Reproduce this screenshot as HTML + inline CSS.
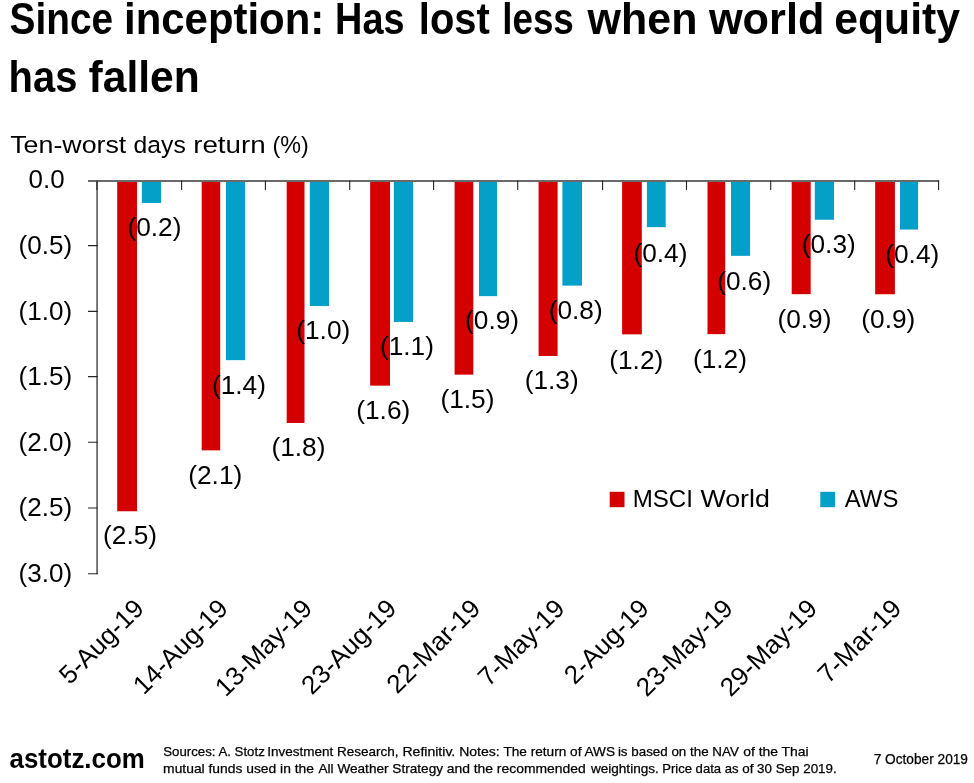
<!DOCTYPE html>
<html lang="en"><head><meta charset="utf-8"><title>Since inception: Has lost less when world equity has fallen</title>
<style>
html,body{margin:0;padding:0;background:#fff}
svg{display:block}
text{font-family:"Liberation Sans", sans-serif;fill:#000}
</style></head><body>
<svg width="974" height="783" viewBox="0 0 974 783">
<text x="9.55" y="34.30" font-size="43.60" font-weight="bold" textLength="103.50" lengthAdjust="spacingAndGlyphs">Since</text>
<text x="124.00" y="34.30" font-size="43.60" font-weight="bold" textLength="200.29" lengthAdjust="spacingAndGlyphs">inception:</text>
<text x="335.10" y="34.30" font-size="43.60" font-weight="bold" textLength="69.46" lengthAdjust="spacingAndGlyphs">Has</text>
<text x="418.85" y="34.30" font-size="43.60" font-weight="bold" textLength="70.92" lengthAdjust="spacingAndGlyphs">lost</text>
<text x="502.20" y="34.30" font-size="43.60" font-weight="bold" textLength="71.65" lengthAdjust="spacingAndGlyphs">less</text>
<text x="587.60" y="34.30" font-size="43.60" font-weight="bold" textLength="109.78" lengthAdjust="spacingAndGlyphs">when</text>
<text x="708.90" y="34.30" font-size="43.60" font-weight="bold" textLength="115.48" lengthAdjust="spacingAndGlyphs">world</text>
<text x="834.25" y="34.30" font-size="43.60" font-weight="bold" textLength="125.80" lengthAdjust="spacingAndGlyphs">equity</text>
<text x="8.55" y="91.50" font-size="43.60" font-weight="bold" textLength="68.82" lengthAdjust="spacingAndGlyphs">has</text>
<text x="88.55" y="91.50" font-size="43.60" font-weight="bold" textLength="111.23" lengthAdjust="spacingAndGlyphs">fallen</text>
<text x="10.20" y="152.70" font-size="24.30" textLength="116.14" lengthAdjust="spacingAndGlyphs">Ten-worst</text>
<text x="133.60" y="152.70" font-size="24.30" textLength="52.16" lengthAdjust="spacingAndGlyphs">days</text>
<text x="193.15" y="152.70" font-size="24.30" textLength="72.55" lengthAdjust="spacingAndGlyphs">return</text>
<text x="272.50" y="152.70" font-size="24.30" textLength="36.27" lengthAdjust="spacingAndGlyphs">(%)</text>
<rect x="117.20" y="181.00" width="19.80" height="330.25" fill="#d40000"/>
<rect x="141.85" y="181.00" width="19.30" height="21.95" fill="#05a0c8"/>
<rect x="201.70" y="181.00" width="18.50" height="269.35" fill="#d40000"/>
<rect x="226.00" y="181.00" width="19.10" height="179.15" fill="#05a0c8"/>
<rect x="286.70" y="181.00" width="17.80" height="241.95" fill="#d40000"/>
<rect x="309.80" y="181.00" width="19.20" height="125.05" fill="#05a0c8"/>
<rect x="370.15" y="181.00" width="19.85" height="204.65" fill="#d40000"/>
<rect x="393.80" y="181.00" width="19.30" height="140.95" fill="#05a0c8"/>
<rect x="454.60" y="181.00" width="18.70" height="193.65" fill="#d40000"/>
<rect x="479.00" y="181.00" width="18.00" height="115.15" fill="#05a0c8"/>
<rect x="538.60" y="181.00" width="19.00" height="174.95" fill="#d40000"/>
<rect x="562.40" y="181.00" width="19.60" height="104.65" fill="#05a0c8"/>
<rect x="622.10" y="181.00" width="19.70" height="153.35" fill="#d40000"/>
<rect x="646.90" y="181.00" width="18.80" height="46.15" fill="#05a0c8"/>
<rect x="707.50" y="181.00" width="17.70" height="153.15" fill="#d40000"/>
<rect x="731.00" y="181.00" width="19.10" height="74.85" fill="#05a0c8"/>
<rect x="791.70" y="181.00" width="19.00" height="113.15" fill="#d40000"/>
<rect x="814.80" y="181.00" width="19.20" height="38.75" fill="#05a0c8"/>
<rect x="875.15" y="181.00" width="19.75" height="113.25" fill="#d40000"/>
<rect x="900.00" y="181.00" width="18.10" height="48.55" fill="#05a0c8"/>
<g stroke="#6a6a6a" stroke-width="1.8" fill="none">
<path d="M88 181.0H939.1"/>
<path d="M97.10 180.25V574.3"/>
</g>
<path d="M88 245.60H97.70M88 311.40H97.70M88 376.60H97.70M88 442.30H97.70M88 508.00H97.70M88 573.70H97.70M96.95 180.4V189.9M181.60 180.4V189.9M265.40 180.4V189.9M349.70 180.4V189.9M433.60 180.4V189.9M517.70 180.4V189.9M602.60 180.4V189.9M686.50 180.4V189.9M770.70 180.4V189.9M854.70 180.4V189.9M938.60 180.4V189.9" stroke="#262626" stroke-width="1.1" fill="none"/>
<text x="28.60" y="188.20" font-size="26.00" textLength="36.05" lengthAdjust="spacingAndGlyphs">0.0</text>
<text x="18.50" y="254.00" font-size="26.00" textLength="53.58" lengthAdjust="spacingAndGlyphs">(0.5)</text>
<text x="18.50" y="319.80" font-size="26.00" textLength="53.58" lengthAdjust="spacingAndGlyphs">(1.0)</text>
<text x="18.50" y="385.00" font-size="26.00" textLength="53.58" lengthAdjust="spacingAndGlyphs">(1.5)</text>
<text x="18.50" y="450.70" font-size="26.00" textLength="53.58" lengthAdjust="spacingAndGlyphs">(2.0)</text>
<text x="18.50" y="516.40" font-size="26.00" textLength="53.58" lengthAdjust="spacingAndGlyphs">(2.5)</text>
<text x="18.50" y="582.10" font-size="26.00" textLength="53.58" lengthAdjust="spacingAndGlyphs">(3.0)</text>
<text x="103.05" y="543.50" font-size="26.00" textLength="54.00" lengthAdjust="spacingAndGlyphs">(2.5)</text>
<text x="127.45" y="236.20" font-size="26.00" textLength="54.00" lengthAdjust="spacingAndGlyphs">(0.2)</text>
<text x="188.25" y="483.60" font-size="26.00" textLength="54.00" lengthAdjust="spacingAndGlyphs">(2.1)</text>
<text x="211.95" y="394.20" font-size="26.00" textLength="54.00" lengthAdjust="spacingAndGlyphs">(1.4)</text>
<text x="271.45" y="456.20" font-size="26.00" textLength="54.00" lengthAdjust="spacingAndGlyphs">(1.8)</text>
<text x="296.25" y="339.30" font-size="26.00" textLength="54.00" lengthAdjust="spacingAndGlyphs">(1.0)</text>
<text x="356.25" y="418.90" font-size="26.00" textLength="54.00" lengthAdjust="spacingAndGlyphs">(1.6)</text>
<text x="379.95" y="355.20" font-size="26.00" textLength="54.00" lengthAdjust="spacingAndGlyphs">(1.1)</text>
<text x="440.45" y="407.90" font-size="26.00" textLength="54.00" lengthAdjust="spacingAndGlyphs">(1.5)</text>
<text x="465.05" y="329.40" font-size="26.00" textLength="54.00" lengthAdjust="spacingAndGlyphs">(0.9)</text>
<text x="524.65" y="389.20" font-size="26.00" textLength="54.00" lengthAdjust="spacingAndGlyphs">(1.3)</text>
<text x="548.65" y="318.90" font-size="26.00" textLength="54.00" lengthAdjust="spacingAndGlyphs">(0.8)</text>
<text x="609.25" y="368.50" font-size="26.00" textLength="54.00" lengthAdjust="spacingAndGlyphs">(1.2)</text>
<text x="633.45" y="261.80" font-size="26.00" textLength="54.00" lengthAdjust="spacingAndGlyphs">(0.4)</text>
<text x="692.95" y="368.30" font-size="26.00" textLength="54.00" lengthAdjust="spacingAndGlyphs">(1.2)</text>
<text x="717.15" y="289.60" font-size="26.00" textLength="54.00" lengthAdjust="spacingAndGlyphs">(0.6)</text>
<text x="777.45" y="327.90" font-size="26.00" textLength="54.00" lengthAdjust="spacingAndGlyphs">(0.9)</text>
<text x="801.75" y="252.50" font-size="26.00" textLength="54.00" lengthAdjust="spacingAndGlyphs">(0.3)</text>
<text x="861.35" y="328.00" font-size="26.00" textLength="54.00" lengthAdjust="spacingAndGlyphs">(0.9)</text>
<text x="885.25" y="262.80" font-size="26.00" textLength="54.00" lengthAdjust="spacingAndGlyphs">(0.4)</text>
<text transform="translate(145.38 609.90) rotate(-45)" text-anchor="end" font-size="26">5-Aug-19</text>
<text transform="translate(229.56 609.90) rotate(-45)" text-anchor="end" font-size="26">14-Aug-19</text>
<text transform="translate(313.72 609.90) rotate(-45)" text-anchor="end" font-size="26">13-May-19</text>
<text transform="translate(397.89 609.90) rotate(-45)" text-anchor="end" font-size="26">23-Aug-19</text>
<text transform="translate(482.06 609.90) rotate(-45)" text-anchor="end" font-size="26">22-Mar-19</text>
<text transform="translate(566.24 609.90) rotate(-45)" text-anchor="end" font-size="26">7-May-19</text>
<text transform="translate(650.40 609.90) rotate(-45)" text-anchor="end" font-size="26">2-Aug-19</text>
<text transform="translate(734.58 609.90) rotate(-45)" text-anchor="end" font-size="26">23-May-19</text>
<text transform="translate(818.75 609.90) rotate(-45)" text-anchor="end" font-size="26">29-May-19</text>
<text transform="translate(902.91 609.90) rotate(-45)" text-anchor="end" font-size="26">7-Mar-19</text>
<rect x="609.7" y="491.8" width="14.8" height="15.4" fill="#d40000"/>
<rect x="820.3" y="491.8" width="14.8" height="15.4" fill="#05a0c8"/>
<text x="632.70" y="506.50" font-size="23.30" textLength="60.25" lengthAdjust="spacingAndGlyphs">MSCI</text>
<text x="700.45" y="506.50" font-size="23.30" textLength="69.42" lengthAdjust="spacingAndGlyphs">World</text>
<text x="844.80" y="506.50" font-size="23.30" textLength="53.58" lengthAdjust="spacingAndGlyphs">AWS</text>
<text x="9.55" y="768.20" font-size="27.20" font-weight="bold" textLength="135.25" lengthAdjust="spacingAndGlyphs">astotz.com</text>
<text x="163.25" y="756.00" font-size="13.40" textLength="101.50" lengthAdjust="spacingAndGlyphs" stroke="#000" stroke-width=".25">Sources: A. Stotz</text>
<text x="267.35" y="756.00" font-size="13.40" textLength="131.17" lengthAdjust="spacingAndGlyphs" stroke="#000" stroke-width=".25">Investment Research,</text>
<text x="402.45" y="756.00" font-size="13.40" textLength="97.34" lengthAdjust="spacingAndGlyphs" stroke="#000" stroke-width=".25">Refinitiv. Notes:</text>
<text x="503.45" y="756.00" font-size="13.40" textLength="111.57" lengthAdjust="spacingAndGlyphs" stroke="#000" stroke-width=".25">The return of AWS</text>
<text x="617.90" y="756.00" font-size="13.40" textLength="120.94" lengthAdjust="spacingAndGlyphs" stroke="#000" stroke-width=".25">is based on the NAV</text>
<text x="743.20" y="756.00" font-size="13.40" textLength="65.48" lengthAdjust="spacingAndGlyphs" stroke="#000" stroke-width=".25">of the Thai</text>
<text x="163.10" y="772.80" font-size="13.40" textLength="150.91" lengthAdjust="spacingAndGlyphs" stroke="#000" stroke-width=".25">mutual funds used in the</text>
<text x="318.50" y="772.80" font-size="13.40" textLength="124.51" lengthAdjust="spacingAndGlyphs" stroke="#000" stroke-width=".25">All Weather Strategy</text>
<text x="446.70" y="772.80" font-size="13.40" textLength="138.95" lengthAdjust="spacingAndGlyphs" stroke="#000" stroke-width=".25">and the recommended</text>
<text x="590.90" y="772.80" font-size="13.40" textLength="67.92" lengthAdjust="spacingAndGlyphs" stroke="#000" stroke-width=".25">weightings.</text>
<text x="662.20" y="772.80" font-size="13.40" textLength="76.32" lengthAdjust="spacingAndGlyphs" stroke="#000" stroke-width=".25">Price data as</text>
<text x="742.20" y="772.80" font-size="13.40" textLength="94.51" lengthAdjust="spacingAndGlyphs" stroke="#000" stroke-width=".25">of 30 Sep 2019.</text>
<text x="873.65" y="763.70" font-size="13.90" textLength="94.34" lengthAdjust="spacingAndGlyphs" stroke="#000" stroke-width=".25">7 October 2019</text>
</svg>
</body></html>
